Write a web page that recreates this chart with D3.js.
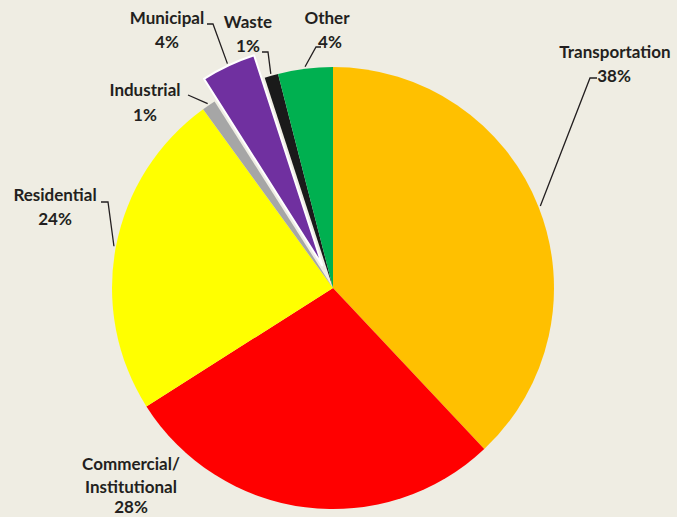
<!DOCTYPE html>
<html>
<head>
<meta charset="utf-8">
<script src="https://cdn.jsdelivr.net/npm/d3@7"></script>
<style>
  html, body { margin: 0; padding: 0; background: #efede3; }
  svg { display: block; }
  text { font-family: Lato, "Open Sans", sans-serif; font-weight: bold; fill: #231f20; }
</style>
</head>
<body>
<div id="chart"></div>
<script>
// emissions by sector, percent
var sectors = ['Transportation', 'Commercial/Institutional', 'Residential', 'Industrial', 'Municipal', 'Waste', 'Other'];
var shares = [38, 28, 24, 1, 4, 1, 4];
var colors = ['#ffc000', '#ff0000', '#ffff00', '#a6a6a6', '#7030a0', '#1a1a1a', '#00b050'];
var exploded = ['Municipal'];

// where each label sits (text lines, text anchor, leader elbow + end)
var labelLayout = {
	'Transportation': {lines: ['Transportation', '38%'], x: [615, 614], y: [58, 82], elbow: [590, 78], end: [597, 78]},
	'Commercial/Institutional': {lines: ['Commercial/', 'Institutional', '28%'], x: [131, 131, 131], y: [470, 493, 513], elbow: null},
	'Residential': {lines: ['Residential', '24%'], x: [55, 55], y: [201, 225], elbow: [108, 202], end: [101, 202]},
	'Industrial': {lines: ['Industrial', '1%'], x: [145, 145], y: [96, 121], elbow: null, end: [188, 95]},
	'Municipal': {lines: ['Municipal', '4%'], x: [167, 167], y: [24, 48], elbow: [213, 24], end: [207, 24]},
	'Waste': {lines: ['Waste', '1%'], x: [248, 248], y: [28, 52], elbow: [268, 52], end: [262, 52]},
	'Other': {lines: ['Other', '4%'], x: [327, 330], y: [24, 48], elbow: [316, 47], end: [321, 47]}
};

var fullWidth = 677;
var fullHeight = 517;
var cx = 333, cy = 288, radius = 221, explode = 25;

var svg = d3.select('#chart')
	.append('svg')
	.attr('width', fullWidth)
	.attr('height', fullHeight);

var data = sectors.map(function(s, i) { return {name: s, value: shares[i], color: colors[i]}; });

var pie = d3.pie()
	.sort(null)
	.value(function(d) { return d.value; });

var arc = d3.arc()
	.innerRadius(0)
	.outerRadius(radius);

var g = svg.append('g')
	.attr('transform', 'translate(' + cx + ',' + cy + ')');

var arcs = pie(data);

function offsetOf(d) {
	if (exploded.indexOf(d.data.name) < 0) return [0, 0];
	var a = (d.startAngle + d.endAngle) / 2;
	return [Math.sin(a) * explode, -Math.cos(a) * explode];
}

g.selectAll('path.slice')
	.data(arcs)
	.enter()
	.append('path')
	.attr('class', 'slice')
	.attr('d', arc)
	.attr('fill', function(d) { return d.data.color; })
	.attr('stroke', function(d) { return exploded.indexOf(d.data.name) >= 0 ? '#ffffff' : 'none'; })
	.attr('stroke-width', 2)
	.attr('stroke-linejoin', 'round')
	.attr('transform', function(d) {
		var o = offsetOf(d);
		return 'translate(' + o[0] + ',' + o[1] + ')';
	});

// leader lines: start on the outer arc at the slice's middle angle
arcs.forEach(function(d) {
	var lay = labelLayout[d.data.name];
	if (!lay.end) return;
	var a = (d.startAngle + d.endAngle) / 2;
	var o = offsetOf(d);
	var start = [cx + o[0] + Math.sin(a) * (radius + 2), cy + o[1] - Math.cos(a) * (radius + 2)];
	var pts = [start];
	if (lay.elbow) pts.push(lay.elbow);
	pts.push(lay.end);
	svg.append('path')
		.attr('d', d3.line()(pts))
		.attr('fill', 'none')
		.attr('stroke', '#231f20')
		.attr('stroke-width', 1.3);
});

// labels
arcs.forEach(function(d) {
	var lay = labelLayout[d.data.name];
	lay.lines.forEach(function(t, i) {
		svg.append('text')
			.attr('x', lay.x[i])
			.attr('y', lay.y[i])
			.attr('text-anchor', 'middle')
			.style('font-size', '17px')
			.text(t);
	});
});
</script>
</body>
</html>
